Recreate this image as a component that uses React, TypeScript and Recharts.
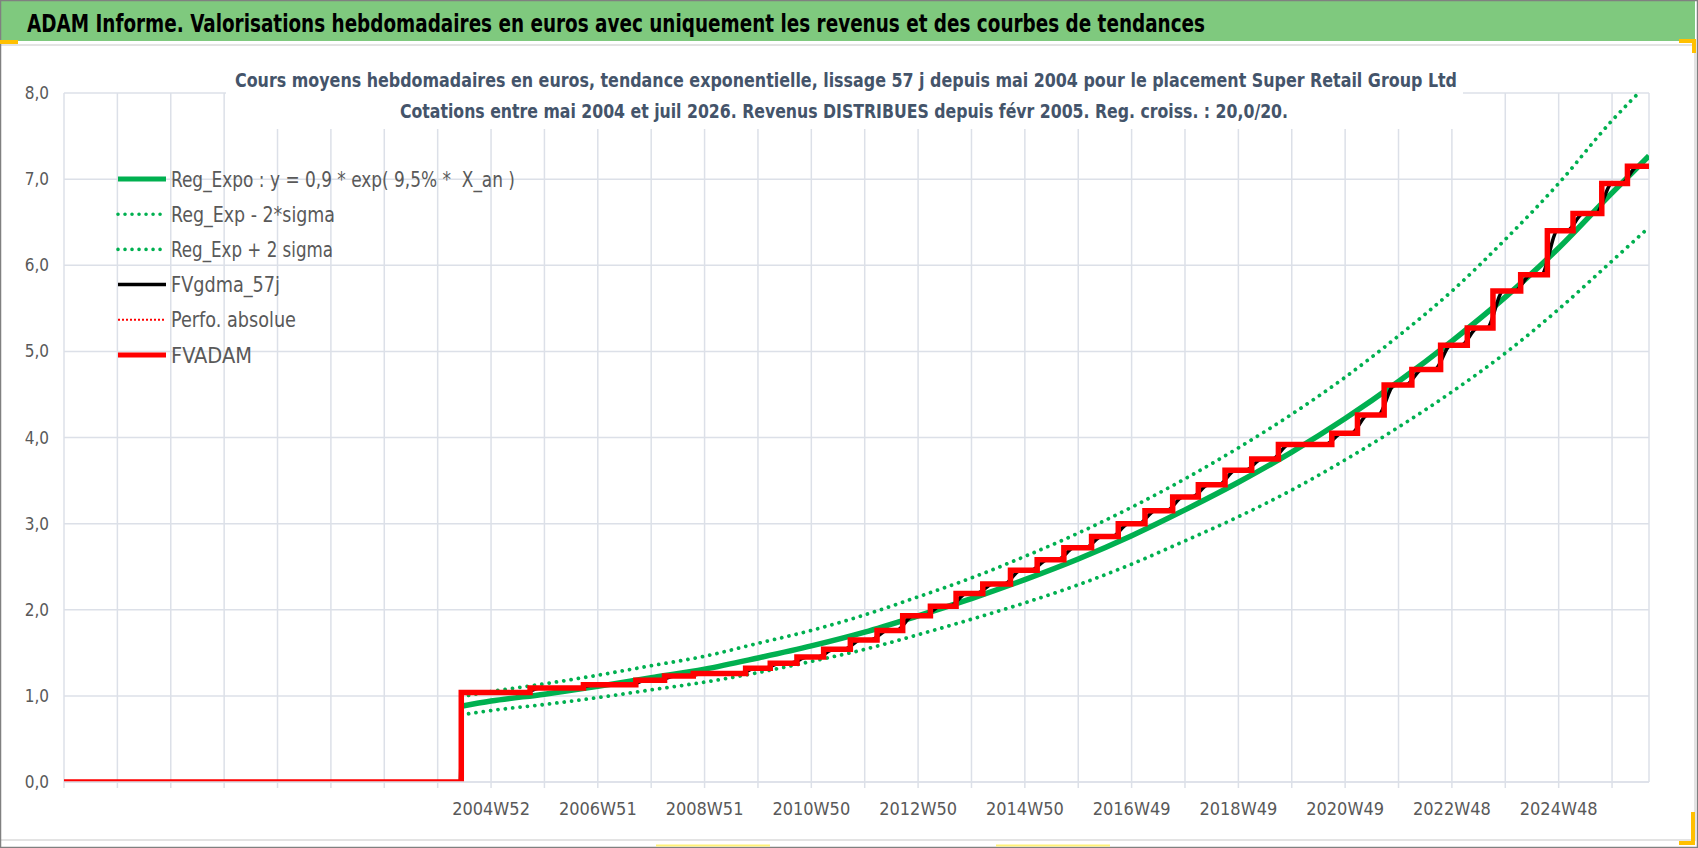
import React from "react";
import { CartesianGrid, Legend, Line, LineChart, XAxis, YAxis } from "recharts";

// weekly index: 0 = first category of the axis, one gridline every 52 weeks
const trendWeeks = [387, 416, 468, 520, 572, 624, 676, 728, 780, 832, 884, 936, 988, 1040, 1092, 1144, 1196, 1248, 1300, 1352, 1404, 1456, 1508, 1544];
const regExpo = [0.88, 0.94, 1.02, 1.11, 1.21, 1.31, 1.44, 1.58, 1.74, 1.93, 2.13, 2.35, 2.59, 2.86, 3.16, 3.48, 3.83, 4.22, 4.65, 5.12, 5.63, 6.2, 6.84, 7.27];
const regMinus = [0.78, 0.83, 0.9, 0.98, 1.07, 1.16, 1.27, 1.4, 1.54, 1.71, 1.89, 2.08, 2.29, 2.53, 2.8, 3.08, 3.39, 3.74, 4.12, 4.53, 4.98, 5.49, 6.05, 6.44];
const regPlus = [0.99, 1.05, 1.14, 1.24, 1.35, 1.46, 1.61, 1.76, 1.94, 2.15, 2.37, 2.62, 2.89, 3.19, 3.52, 3.88, 4.27, 4.7, 5.18, 5.7, 6.3, 6.95, 7.68, 8.12];

const fvadamWeeks = [0, 387, 454, 506, 557, 585, 613, 664, 688, 714, 740, 766, 792, 817, 844, 869, 895, 922, 948, 974, 1001, 1027, 1053, 1080, 1105, 1131, 1157, 1183, 1235, 1260, 1286, 1313, 1341, 1367, 1392, 1419, 1445, 1470, 1498, 1523, 1544];
const fvadamValues = [0, 1.04, 1.09, 1.13, 1.18, 1.23, 1.26, 1.32, 1.38, 1.45, 1.54, 1.65, 1.76, 1.93, 2.04, 2.19, 2.3, 2.46, 2.58, 2.72, 2.85, 3.0, 3.15, 3.31, 3.45, 3.62, 3.75, 3.92, 4.05, 4.26, 4.61, 4.79, 5.07, 5.27, 5.7, 5.89, 6.4, 6.6, 6.95, 7.15, 7.15];

const gdmaWeeks = [0, 386, 388, 448, 464, 500, 516, 551, 567, 579, 595, 607, 623, 658, 674, 682, 698, 708, 724, 734, 750, 760, 776, 786, 802, 811, 827, 838, 854, 863, 879, 889, 905, 916, 932, 942, 958, 968, 984, 995, 1011, 1021, 1037, 1047, 1063, 1074, 1090, 1099, 1115, 1125, 1141, 1151, 1167, 1177, 1193, 1229, 1245, 1254, 1270, 1280, 1296, 1307, 1323, 1335, 1351, 1361, 1377, 1386, 1402, 1413, 1429, 1439, 1455, 1464, 1480, 1492, 1508, 1517, 1533, 1544];
const gdmaValues = [0, 0, 1.04, 1.04, 1.09, 1.09, 1.13, 1.13, 1.18, 1.18, 1.23, 1.23, 1.26, 1.26, 1.32, 1.32, 1.38, 1.38, 1.45, 1.45, 1.54, 1.54, 1.65, 1.65, 1.76, 1.76, 1.93, 1.93, 2.04, 2.04, 2.19, 2.19, 2.3, 2.3, 2.46, 2.46, 2.58, 2.58, 2.72, 2.72, 2.85, 2.85, 3.0, 3.0, 3.15, 3.15, 3.31, 3.31, 3.45, 3.45, 3.62, 3.62, 3.75, 3.75, 3.92, 3.92, 4.05, 4.05, 4.26, 4.26, 4.61, 4.61, 4.79, 4.79, 5.07, 5.07, 5.27, 5.27, 5.7, 5.7, 5.89, 5.89, 6.4, 6.4, 6.6, 6.6, 6.95, 6.95, 7.15, 7.15];

const xLabelWeeks = [416, 520, 624, 728, 832, 936, 1040, 1144, 1248, 1352, 1456];
const xLabels = ["2004W52", "2006W51", "2008W51", "2010W50", "2012W50", "2014W50", "2016W49", "2018W49", "2020W49", "2022W48", "2024W48"];
const yTicks = [0, 1, 2, 3, 4, 5, 6, 7, 8];

const headerText = "ADAM Informe. Valorisations hebdomadaires en euros avec uniquement les revenus et des courbes de tendances";
const title1 = "Cours moyens hebdomadaires en euros, tendance exponentielle, lissage 57 j depuis mai 2004 pour le placement Super Retail Group Ltd";
const title2 = "Cotations entre mai 2004 et juil 2026. Revenus DISTRIBUES depuis févr 2005. Reg. croiss. : 20,0/20.";

const NARROW = "'Liberation Sans Narrow', 'Arial Narrow', 'DejaVu Sans Condensed', 'Liberation Sans', sans-serif";
const GREEN = "#00B050";
const RED = "#FF0000";
const GRID = "#DCE0E8";
const LABEL = "#595959";

const pairs = (ws: number[], vs: number[]) => ws.map((w, i) => ({ w, v: vs[i] }));
const regData = pairs(trendWeeks, regExpo);
const minusData = pairs(trendWeeks, regMinus);
const plusData = pairs(trendWeeks, regPlus);
const fvadamData = pairs(fvadamWeeks, fvadamValues);
const gdmaData = pairs(gdmaWeeks, gdmaValues);

const gridWeeks = Array.from({ length: 30 }, (_, k) => k * 52);

const legendRows = [
  { name: "Reg_Expo : y = 0,9 * exp( 9,5% *  X_an )", color: GREEN, width: 5, dash: "", len: 344 },
  { name: "Reg_Exp - 2*sigma", color: GREEN, width: 3.6, dash: "0.01 7", len: 164 },
  { name: "Reg_Exp + 2 sigma", color: GREEN, width: 3.6, dash: "0.01 7", len: 162 },
  { name: "FVgdma_57j", color: "#000000", width: 3.5, dash: "", len: 109 },
  { name: "Perfo. absolue", color: RED, width: 2, dash: "2 2", len: 125 },
  { name: "FVADAM", color: RED, width: 5, dash: "", len: 81 },
];

function LegendBox() {
  return (
    <svg width={480} height={215} style={{ display: "block", overflow: "visible" }}>
      {legendRows.map((r, i) => {
        const cy = 18 + i * 35.2;
        return (
          <g key={r.name}>
            <line x1={1} x2={49} y1={cy} y2={cy} stroke={r.color} strokeWidth={r.width}
              strokeDasharray={r.dash || undefined} strokeLinecap={r.dash.startsWith("0.01") ? "round" : "butt"} />
            <text x={54} y={cy + 7.5} fontFamily={NARROW} fontSize={21} fill={LABEL} style={{ whiteSpace: "pre" }}
              textLength={r.len} lengthAdjust="spacingAndGlyphs">{r.name}</text>
          </g>
        );
      })}
    </svg>
  );
}

export default function App() {
  const xFmt = (w: number) => {
    const i = xLabelWeeks.indexOf(w);
    return i >= 0 ? xLabels[i] : "";
  };
  return (
    <div style={{ position: "absolute", left: 0, top: 0, width: 1698, height: 848, background: "#fff", overflow: "hidden" }}>
      <svg width={1698} height={848} style={{ position: "absolute", left: 0, top: 0 }}>
        <rect x={0} y={0} width={1698} height={848} fill="#fff" />
        <rect x={1} y={1} width={1694} height={40} fill="#7FC97E" />
        <text x={27} y={32} fontFamily={NARROW} fontWeight="bold" fontSize={24} fill="#000"
          textLength={1178} lengthAdjust="spacingAndGlyphs">{headerText}</text>
        <line x1={0} x2={1696} y1={45} y2={45} stroke="#E3E3E3" strokeWidth={2} />
        <line x1={1695} x2={1695} y1={45} y2={841} stroke="#E3E3E3" strokeWidth={2} />
        <line x1={0} x2={1696} y1={840} y2={840} stroke="#E3E3E3" strokeWidth={2} />
      </svg>
      <div style={{ position: "absolute", left: 0, top: 0 }}>
        <LineChart width={1698} height={848} margin={{ top: 93, right: 49, bottom: 26, left: 0 }}>
          <CartesianGrid stroke={GRID} strokeWidth={1.5} />
          <XAxis dataKey="w" type="number" domain={[0, 1544]} allowDataOverflow ticks={gridWeeks} interval={0}
            tickFormatter={xFmt} height={40} tickSize={6} tickMargin={14}
            stroke={GRID} axisLine={{ stroke: GRID, strokeWidth: 1.5 }} tickLine={{ stroke: GRID, strokeWidth: 1.5 }}
            tick={{ fill: LABEL, fontSize: 18, fontFamily: NARROW }} />
          <YAxis type="number" domain={[0, 8]} ticks={yTicks} allowDataOverflow width={64}
            axisLine={false} tickLine={false} tickMargin={9}
            tickFormatter={(v: number) => v.toFixed(1).replace(".", ",")}
            tick={{ fill: LABEL, fontSize: 17, fontFamily: NARROW }} />
          <Legend layout="vertical" align="center" verticalAlign="middle" content={() => <LegendBox />}
            wrapperStyle={{ position: "absolute", left: 117, top: 161, width: 480, height: 215 }} />
          <Line data={minusData} dataKey="v" name="Reg_Exp - 2*sigma" type="monotone" stroke={GREEN} strokeWidth={3.8}
            strokeDasharray="0.01 7.4" strokeLinecap="round" dot={false} activeDot={false} isAnimationActive={false} />
          <Line data={plusData} dataKey="v" name="Reg_Exp + 2 sigma" type="monotone" stroke={GREEN} strokeWidth={3.8}
            strokeDasharray="0.01 7.4" strokeLinecap="round" dot={false} activeDot={false} isAnimationActive={false} />
          <Line data={regData} dataKey="v" name="Reg_Expo" type="monotone" stroke={GREEN} strokeWidth={5.5}
            dot={false} activeDot={false} isAnimationActive={false} />
          <Line data={gdmaData} dataKey="v" name="FVgdma_57j" type="monotone" stroke="#000000" strokeWidth={3.5}
            dot={false} activeDot={false} isAnimationActive={false} />
          <Line data={fvadamData} dataKey="v" name="Perfo. absolue" type="stepAfter" stroke={RED} strokeWidth={2}
            strokeDasharray="2 2" dot={false} activeDot={false} isAnimationActive={false} />
          <Line data={fvadamData} dataKey="v" name="FVADAM" type="stepAfter" stroke={RED} strokeWidth={5.5}
            dot={false} activeDot={false} isAnimationActive={false} />
        </LineChart>
      </div>
      <svg width={1698} height={848} style={{ position: "absolute", left: 0, top: 0, pointerEvents: "none" }}>
        <rect x={226} y={52} width={1237} height={77} fill="#fff" />
        <text x={846} y={87} textAnchor="middle" fontFamily={NARROW} fontWeight="bold" fontSize={20} fill="#44546A"
          textLength={1222} lengthAdjust="spacingAndGlyphs">{title1}</text>
        <text x={844} y={118} textAnchor="middle" fontFamily={NARROW} fontWeight="bold" fontSize={20} fill="#44546A"
          textLength={888} lengthAdjust="spacingAndGlyphs">{title2}</text>
        <rect x={0.5} y={0.5} width={1697} height={847} fill="none" stroke="#808080" strokeWidth={1.5} />
        <rect x={0} y={40} width={18} height={4} fill="#FFC000" />
        <path d="M1679 41 H1694 V53" fill="none" stroke="#FFC000" strokeWidth={4} />
        <path d="M1693 812 V843 H1679" fill="none" stroke="#FFC000" strokeWidth={4} />
        <line x1={656} x2={770} y1={845.5} y2={845.5} stroke="#FFF176" strokeWidth={2} />
        <line x1={996} x2={1110} y1={845.5} y2={845.5} stroke="#FFF176" strokeWidth={2} />
      </svg>
    </div>
  );
}
